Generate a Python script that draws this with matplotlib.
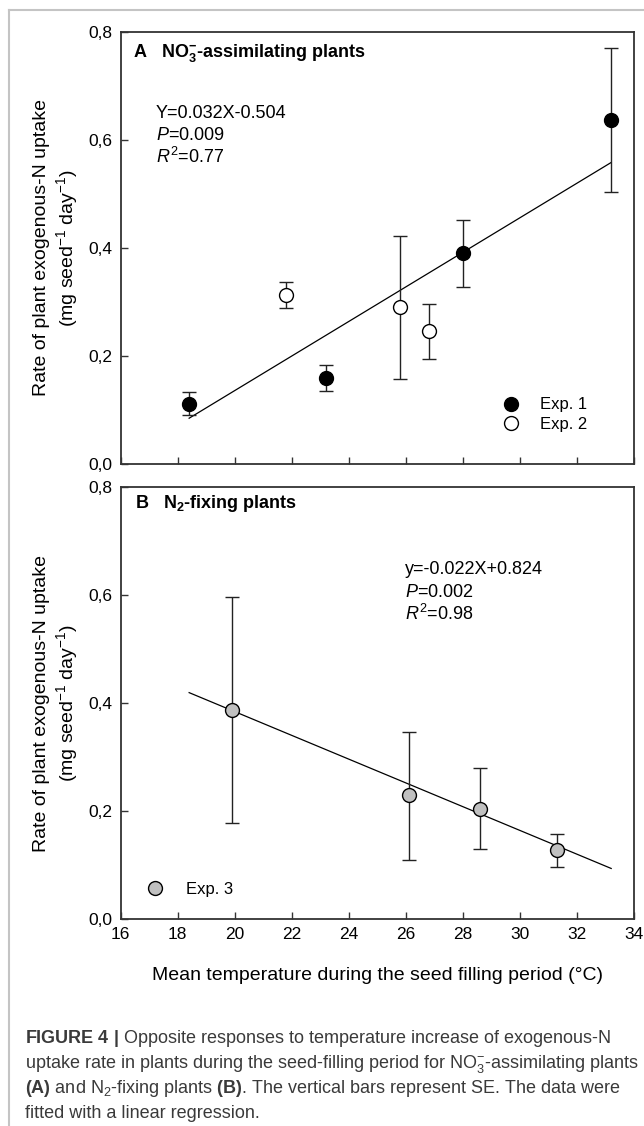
import matplotlib
matplotlib.use("Agg")
import matplotlib.pyplot as plt
from matplotlib.lines import Line2D
from matplotlib.ticker import FuncFormatter

plt.rcParams['font.family'] = ['Liberation Sans', 'DejaVu Sans']
plt.rcParams['mathtext.fontset'] = 'custom'
plt.rcParams['mathtext.rm'] = 'Liberation Sans'
plt.rcParams['mathtext.it'] = 'Liberation Sans:italic'
plt.rcParams['mathtext.bf'] = 'Liberation Sans:bold'

# panel A - NO3- assimilating plants
exp1_temp = [18.4, 23.2, 28.0, 33.2]
exp1_rate = [0.112, 0.160, 0.390, 0.637]
exp1_lo = [0.091, 0.136, 0.327, 0.503]
exp1_hi = [0.134, 0.183, 0.452, 0.771]

exp2_temp = [21.8, 25.8, 26.8]
exp2_rate = [0.313, 0.290, 0.246]
exp2_lo = [0.288, 0.157, 0.195]
exp2_hi = [0.337, 0.422, 0.296]

# panel B - N2 fixing plants
exp3_temp = [19.9, 26.1, 28.6, 31.3]
exp3_rate = [0.387, 0.229, 0.204, 0.128]
exp3_lo = [0.178, 0.110, 0.129, 0.096]
exp3_hi = [0.596, 0.347, 0.280, 0.158]

# regressions (slope, intercept) and the span they are drawn over
fit_a = (0.032, -0.504)
fit_b = (-0.022, 0.824)
fit_span = [18.4, 33.2]

x_ticks = [16, 18, 20, 22, 24, 26, 28, 30, 32, 34]
y_ticks = [0.0, 0.2, 0.4, 0.6, 0.8]

W, H = 644, 1126
fig = plt.figure(figsize=(W / 100, H / 100), dpi=100)

left = 120.7 / W
width = (634 - 120.7) / W
axA = fig.add_axes([left, 1 - 464 / H, width, (464 - 32) / H])
axB = fig.add_axes([left, 1 - 919 / H, width, (919 - 487) / H])

spine_col = '#333333'
ylab = 'Rate of plant exogenous-N uptake\n(mg seed$^{-1}$ day$^{-1}$)'


def errs(rate, lo, hi):
    return [[r - l for r, l in zip(rate, lo)], [h - r for r, h in zip(rate, hi)]]


def style(ax, labels_x):
    ax.set_xlim(16, 34)
    ax.set_ylim(0, 0.8)
    ax.set_xticks(x_ticks)
    ax.set_yticks(y_ticks)
    ax.yaxis.set_major_formatter(FuncFormatter(lambda v, p: f"{v:.1f}".replace('.', ',')))
    for s in ax.spines.values():
        s.set_color(spine_col)
        s.set_linewidth(1.3)
    ax.tick_params(direction='in', length=5, width=1, color=spine_col,
                   labelsize=12.5, labelcolor='black', pad=6)
    if not labels_x:
        ax.tick_params(axis='x', labelbottom=False)
    ax.set_ylabel(ylab, fontsize=14, va='center', linespacing=1.25)
    ax.yaxis.set_label_coords(-0.125, 0.5)


eb = dict(fmt='o', ms=10, mec='black', mew=1, ecolor='#222222',
          elinewidth=1, capsize=5, capthick=1, zorder=3)

# panel A
fx = fit_span
axA.plot(fx, [fit_a[0] * v + fit_a[1] for v in fx], color='black', lw=0.9, zorder=2)
axA.errorbar(exp1_temp, exp1_rate, yerr=errs(exp1_rate, exp1_lo, exp1_hi),
             mfc='black', label='Exp. 1', **eb)
axA.errorbar(exp2_temp, exp2_rate, yerr=errs(exp2_rate, exp2_lo, exp2_hi),
             mfc='white', label='Exp. 2', **eb)
style(axA, False)
axA.text(0.024, 0.9414, r'A   NO$_\mathbf{3}^\mathbf{-}$-assimilating plants',
         transform=axA.transAxes, fontsize=13, fontweight='bold', va='baseline')
axA.text(0.069, 0.800, 'Y=0.032X-0.504', transform=axA.transAxes, fontsize=13, va='baseline')
axA.text(0.069, 0.751, '$P$=0.009', transform=axA.transAxes, fontsize=13, va='baseline')
axA.text(0.069, 0.697, '$R^2$=0.77', transform=axA.transAxes, fontsize=13, va='baseline')
h, l = axA.get_legend_handles_labels()
hA = [Line2D([], [], ls='none', marker='o', ms=10, mfc=c, mec='black', mew=1)
      for c in ['black', 'white']]
axA.legend(hA, l, loc='center left', bbox_to_anchor=(0.7445, 0.1146), frameon=False,
           fontsize=12, handlelength=1.0, handletextpad=1.21, labelspacing=0.25,
           borderpad=0, borderaxespad=0)

# panel B
axB.plot(fx, [fit_b[0] * v + fit_b[1] for v in fx], color='black', lw=0.9, zorder=2)
axB.errorbar(exp3_temp, exp3_rate, yerr=errs(exp3_rate, exp3_lo, exp3_hi),
             mfc='#c0c0c0', label='Exp. 3', **eb)
style(axB, True)
axB.text(0.028, 0.9507, r'B   N$_\mathbf{2}$-fixing plants',
         transform=axB.transAxes, fontsize=13, fontweight='bold', va='baseline')
axB.text(0.553, 0.7986, 'y=-0.022X+0.824', transform=axB.transAxes, fontsize=13, va='baseline')
axB.text(0.553, 0.746, '$P$=0.002', transform=axB.transAxes, fontsize=13, va='baseline')
axB.text(0.553, 0.692, '$R^2$=0.98', transform=axB.transAxes, fontsize=13, va='baseline')
hB = [Line2D([], [], ls='none', marker='o', ms=10, mfc='#c0c0c0', mec='black', mew=1)]
axB.legend(hB, ['Exp. 3'], loc='center left', bbox_to_anchor=(0.0507, 0.069), frameon=False,
           fontsize=12, handlelength=1.0, handletextpad=1.335, borderpad=0, borderaxespad=0)
axB.set_xlabel('Mean temperature during the seed filling period (°C)', fontsize=14, va='center')
axB.xaxis.set_label_coords(0.5, (919 - 976) / 432)

# page frame lines
fc = '#c4c4c4'
fig.add_artist(Line2D([9 / W, 1], [1 - 10 / H, 1 - 10 / H], transform=fig.transFigure, color=fc, lw=1.5))
fig.add_artist(Line2D([9 / W, 9 / W], [0, 1 - 10 / H], transform=fig.transFigure, color=fc, lw=1.5))

# caption
cap = [
    r'$\mathbf{FIGURE\ 4\ |}$ Opposite responses to temperature increase of exogenous-N',
    r'uptake rate in plants during the seed-filling period for NO$_3^{-}$-assimilating plants',
    r'$\mathbf{(A)}$ and N$_2$-fixing plants $\mathbf{(B)}$. The vertical bars represent SE. The data were',
    'fitted with a linear regression.',
]
for i, line in enumerate(cap):
    fig.text(25 / W, 1 - (1043 + 25 * i) / H, line, fontsize=13, color='#3a3a3a', va='baseline')

fig.savefig('out.png', dpi=100, facecolor='white')
